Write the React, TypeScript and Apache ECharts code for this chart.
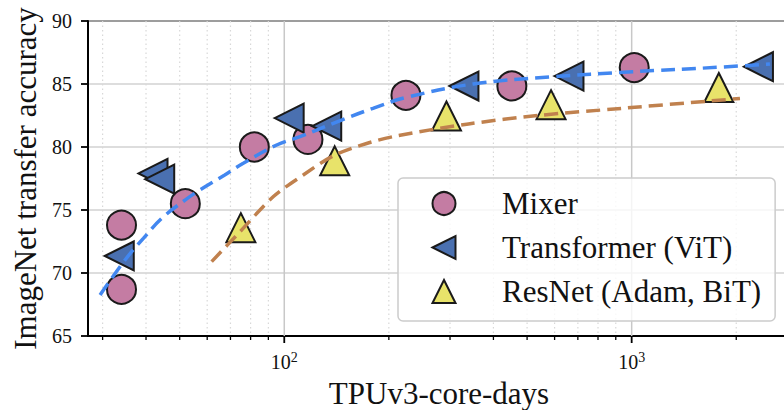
import React, { useEffect, useRef } from 'react';
import * as echarts from 'echarts';

// Scatter data (TPUv3-core-days, ImageNet transfer accuracy)
const mixerX = [34.0, 34.0, 51.9, 82, 117, 224, 452, 1017];
const mixerY = [73.8, 68.7, 75.5, 80.0, 80.6, 84.1, 84.85, 86.3];
const vitX = [33.5, 41.9, 43.8, 103.3, 132.5, 329, 660, 2317];
const vitY = [71.35, 77.9, 77.45, 82.3, 81.65, 84.84, 85.63, 86.37];
const resnetX = [75, 139.7, 293, 586, 1782];
const resnetY = [73.6, 78.9, 82.46, 83.36, 84.72];

// Dashed fit curves
const vitFitX = [29.5, 34.8, 39.3, 44.4, 51.8, 57.2, 67.4, 76.2, 95.1, 111, 138.4, 180, 225, 350, 593, 977, 1837, 2500];
const vitFitY = [68.25, 71.03, 72.75, 74.34, 75.79, 76.59, 77.78, 78.71, 80.16, 80.82, 81.88, 83.07, 83.94, 85.0, 85.58, 85.95, 86.35, 86.59];
const resnetFitX = [61.8, 74.6, 92.9, 113.4, 138.4, 172.6, 213, 339, 542, 940, 2050];
const resnetFitY = [70.9, 73.28, 76.05, 77.78, 79.3, 80.28, 80.91, 81.83, 82.51, 83.07, 83.85];

// Axes
const yTicks = [65, 70, 75, 80, 85, 90];
const xMajorTicks = [100, 1000];
const xMinorTicks = [30, 40, 50, 60, 70, 80, 90, 200, 300, 400, 500, 600, 700, 800, 900, 2000];
const xMin = 27.23;
const xMax = 2856;

const names = ['Mixer', 'Transformer (ViT)', 'ResNet (Adam, BiT)'];
const legendIcons = ['circle', 'path://M0,10L20,0L20,20Z', 'path://M10,0L20,20L0,20Z'];

const FONT = '"Liberation Serif", "DejaVu Serif", serif';
const TEXT = '#111111';

const zip = (xs: number[], ys: number[]) => xs.map((x, i) => [x, ys[i]]);

export default function App() {
  const ref = useRef<HTMLDivElement>(null);

  useEffect(() => {
    if (!ref.current) return;
    const chart = echarts.init(ref.current, undefined, { renderer: 'svg' });

    const gridTickData = [
      ...xMajorTicks.map((v) => [v, 1]),
      ...xMinorTicks.map((v) => [v, 0]),
    ];

    const markerBase = {
      type: 'scatter',
      symbolSize: 29,
      z: 3,
    };

    const option: any = {
      animation: false,
      backgroundColor: '#ffffff',
      grid: {
        left: 88,
        top: 21,
        bottom: 74,
        right: -6,
        show: true,
        borderColor: '#000',
        borderWidth: 2,
        backgroundColor: 'transparent',
        outerBoundsMode: 'none',
      },
      legend: {
        data: names.map((n, i) => ({ name: n, icon: legendIcons[i] })),
        orient: 'vertical',
        left: 398,
        top: 178,
        itemWidth: 23,
        itemHeight: 23,
        itemGap: 13,
        padding: [10, 14, 14, 33.5],
        backgroundColor: 'rgba(255,255,255,0.8)',
        borderColor: '#cccccc',
        borderWidth: 1.5,
        borderRadius: 5,
        textStyle: {
          fontFamily: FONT,
          fontSize: 31,
          lineHeight: 31,
          color: TEXT,
          padding: [0, 0, 0, 41.5],
        },
        z: 10,
      },
      xAxis: {
        type: 'log',
        logBase: 10,
        min: xMin,
        max: xMax,
        name: 'TPUv3-core-days',
        nameLocation: 'middle',
        nameGap: 42,
        nameTextStyle: { fontFamily: FONT, fontSize: 31, color: TEXT },
        axisLine: { show: true, lineStyle: { color: '#000', width: 2 } },
        axisTick: { show: false },
        splitLine: { show: false },
        minorTick: { show: false },
        minorSplitLine: { show: false },
        axisLabel: {
          show: true,
          margin: 14,
          showMinLabel: false,
          showMaxLabel: false,
          formatter: (v: number) => {
            const l = Math.log10(v);
            if (Math.abs(l - Math.round(l)) < 1e-6) return `{b|10}{s|${Math.round(l)}}`;
            return '';
          },
          rich: {
            b: { fontFamily: FONT, fontSize: 20, lineHeight: 22, verticalAlign: 'bottom', color: TEXT },
            s: { fontFamily: FONT, fontSize: 14, lineHeight: 14, verticalAlign: 'top', color: TEXT },
          },
        },
      },
      yAxis: {
        type: 'value',
        min: yTicks[0],
        max: yTicks[yTicks.length - 1],
        interval: 5,
        name: 'ImageNet transfer accuracy',
        nameLocation: 'middle',
        nameGap: 47,
        nameRotate: 90,
        nameTextStyle: { fontFamily: FONT, fontSize: 31, color: TEXT },
        axisLine: { show: true, lineStyle: { color: '#000', width: 2 } },
        axisTick: { show: true, length: 7, lineStyle: { color: '#000', width: 1.8 } },
        axisLabel: { fontFamily: FONT, fontSize: 20, color: TEXT, margin: 16 },
        splitLine: { show: true, lineStyle: { color: '#d2d2d2', width: 1.5 } },
      },
      series: [
        {
          type: 'custom',
          name: 'xgrid',
          coordinateSystem: 'cartesian2d',
          data: gridTickData,
          clip: false,
          silent: true,
          z: 1,
          renderItem: (params: any, api: any) => {
            const v = api.value(0);
            const major = api.value(1) === 1;
            const top = api.coord([v, yTicks[yTicks.length - 1]]);
            const bot = api.coord([v, yTicks[0]]);
            return {
              type: 'group',
              children: [
                {
                  type: 'line',
                  shape: { x1: top[0], y1: top[1], x2: bot[0], y2: bot[1] },
                  style: major
                    ? { stroke: '#c8c8c8', lineWidth: 1.5 }
                    : { stroke: '#d8d8d8', lineWidth: 1.2, lineDash: [1.5, 3] },
                },
                {
                  type: 'line',
                  shape: { x1: bot[0], y1: bot[1], x2: bot[0], y2: bot[1] + (major ? 7 : 4) },
                  style: { stroke: '#000', lineWidth: major ? 1.8 : 1.3 },
                },
              ],
            };
          },
        },
        {
          ...markerBase,
          name: names[0],
          symbol: 'circle',
          data: zip(mixerX, mixerY),
          itemStyle: { color: '#C47CA3', borderColor: '#1a1a1a', borderWidth: 2, opacity: 1 },
        },
        {
          ...markerBase,
          name: names[1],
          symbol: 'triangle',
          symbolRotate: 90,
          data: zip(vitX, vitY),
          itemStyle: { color: '#4A70B0', borderColor: '#1a1a1a', borderWidth: 2, opacity: 1 },
        },
        {
          ...markerBase,
          name: names[2],
          symbol: 'triangle',
          data: zip(resnetX, resnetY),
          itemStyle: { color: '#E8E36A', borderColor: '#1a1a1a', borderWidth: 2, opacity: 1 },
        },
        {
          type: 'line',
          name: 'vitFit',
          data: zip(vitFitX, vitFitY),
          showSymbol: false,
          smooth: 0.4,
          z: 5,
          lineStyle: { color: '#4287F0', width: 3.5, type: [14, 7] },
        },
        {
          type: 'line',
          name: 'resnetFit',
          data: zip(resnetFitX, resnetFitY),
          showSymbol: false,
          smooth: 0.3,
          z: 5,
          lineStyle: { color: '#C0814E', width: 3.5, type: [14, 7] },
        },
      ],
    };

    chart.setOption(option);
    return () => chart.dispose();
  }, []);

  return (
    <div
      ref={ref}
      style={{ position: 'absolute', left: 0, top: 0, width: 784, height: 410 }}
    />
  );
}
